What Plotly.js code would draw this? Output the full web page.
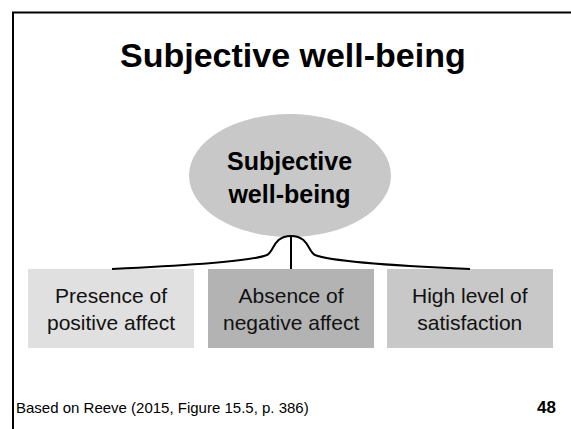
<!DOCTYPE html>
<html>
<head>
<meta charset="utf-8">
<script src="https://cdn.plot.ly/plotly-3.0.1.min.js"></script>
<style>html,body{margin:0;padding:0;background:#fff;}#chart{width:571px;height:429px;}</style>
</head>
<body>
<div id="chart"></div>
<script>
const slideTitle = "Subjective well-being";
const centerLabel = ["Subjective", "well-being"];
const boxLabels = [["Presence of", "positive affect"], ["Absence of", "negative affect"], ["High level of", "satisfaction"]];
const footerText = "Based on Reeve (2015, Figure 15.5, p. 386)";
const pageNumber = "48";

// layout (pixel coordinates, y downward)
const boxX0 = [28, 208, 387];
const boxW = 166;
const boxY0 = 269, boxY1 = 348;
const boxFill = ["#e0e0e0", "#b3b3b3", "#c8c8c8"];
const FONT = "Liberation Sans, Arial, sans-serif";

const shapes = [];
const annotations = [];

// slide frame
shapes.push({type: "line", x0: 13, x1: 13, y0: 12, y1: 429, line: {color: "#000", width: 2}});
shapes.push({type: "line", x0: 12, x1: 571, y0: 12.5, y1: 12.5, line: {color: "#000", width: 2}});

// ellipse
shapes.push({type: "circle", x0: 189, x1: 391, y0: 114, y1: 237, fillcolor: "#c8c8c8", line: {width: 0}, layer: "below"});

// boxes
boxLabels.forEach((lab, i) => {
  shapes.push({type: "rect", x0: boxX0[i], x1: boxX0[i] + boxW, y0: boxY0, y1: boxY1, fillcolor: boxFill[i], line: {width: 0}, layer: "below"});
  annotations.push({x: boxX0[i] + boxW / 2, y: (boxY0 + boxY1) / 2, text: lab.join("<br>"), showarrow: false,
    xanchor: "center", yanchor: "middle", font: {family: FONT, size: 21, color: "#111"}});
});

// brace
shapes.push({type: "path",
  path: "M112,269 C180,266 250,262 267,255 C274,252 273,236 291,236 C309,236 308,252 315,255 C332,262 400,266 470,269",
  line: {color: "#000", width: 2}});
shapes.push({type: "line", x0: 291, x1: 291, y0: 236, y1: 269, line: {color: "#000", width: 2}});

// texts
annotations.push({x: 293, y: 55, text: "<b>" + slideTitle + "</b>", showarrow: false, xanchor: "center", yanchor: "middle",
  font: {family: FONT, size: 34, color: "#000"}});
annotations.push({x: 289, y: 177, text: "<b>" + centerLabel.join("<br>") + "</b>", showarrow: false, xanchor: "center", yanchor: "middle",
  font: {family: FONT, size: 25, color: "#000"}});
annotations.push({x: 14, y: 407, text: footerText, showarrow: false, xanchor: "left", yanchor: "middle",
  font: {family: FONT, size: 15, color: "#000"}});
annotations.push({x: 558, y: 407, text: "<b>" + pageNumber + "</b>", showarrow: false, xanchor: "right", yanchor: "middle",
  font: {family: FONT, size: 17, color: "#000"}});

const layout = {
  width: 571, height: 429,
  margin: {l: 0, r: 0, t: 0, b: 0},
  paper_bgcolor: "#fff", plot_bgcolor: "#fff",
  xaxis: {range: [0, 571], visible: false, fixedrange: true},
  yaxis: {range: [429, 0], visible: false, fixedrange: true},
  showlegend: false,
  shapes: shapes,
  annotations: annotations
};
Plotly.newPlot("chart", [], layout, {displayModeBar: false, staticPlot: true});
</script>
</body>
</html>
